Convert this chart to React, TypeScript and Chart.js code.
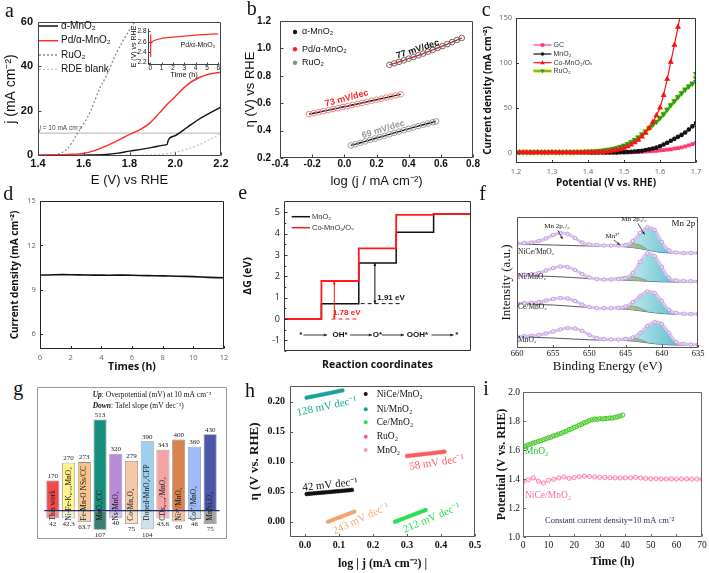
import React, { useEffect, useRef } from "react";
import { Chart, registerables } from "chart.js";
Chart.register(...registerables);

const SANS = "'Liberation Sans', Arial, sans-serif";
const OPEN = "'Open Sans', 'Liberation Sans', sans-serif";
const SERIF = "'Liberation Serif', 'Times New Roman', serif";

// ---------------- Panel a data ----------------
const aAlphaE = [1.40, 1.50, 1.60, 1.70, 1.75, 1.80, 1.85, 1.90, 1.95, 1.965, 1.97, 2.00, 2.05, 2.10, 2.15, 2.20];
const aAlphaJ = [0.0, 0.0, 0.1, 0.4, 1.0, 1.9, 2.7, 3.6, 4.6, 5.0, 7.0, 8.9, 12.4, 16.0, 19.0, 21.7];
const aPdE = [1.40, 1.50, 1.55, 1.60, 1.65, 1.70, 1.75, 1.80, 1.85, 1.89, 1.93, 1.97, 2.00, 2.05, 2.10, 2.15, 2.20];
const aPdJ = [0.05, 0.3, 0.5, 0.9, 2.2, 4.3, 6.7, 9.4, 11.8, 14.6, 19.0, 23.5, 26.5, 31.5, 34.8, 36.6, 37.4];
const aRuE = [1.40, 1.45, 1.50, 1.53, 1.55, 1.57, 1.60, 1.63, 1.67, 1.70, 1.74, 1.78, 1.823];
const aRuJ = [0.0, 0.1, 1.0, 3.2, 6.0, 9.5, 14.2, 20.0, 30.2, 36.0, 45.5, 53.0, 60.0];
const aRdeE = [1.40, 1.80, 1.90, 1.95, 2.00, 2.05, 2.10, 2.15, 2.20];
const aRdeJ = [0.0, 0.0, 0.2, 0.6, 1.4, 2.7, 4.6, 7.0, 10.0];
const aRefE = [1.4, 2.2];
const aRefJ = [10, 10];
const aInsetT = [0, 0.02, 0.05, 0.08, 0.15, 0.3, 0.6, 1, 1.5, 2, 3, 4, 5, 6];
const aInsetE = [2.32, 2.74, 2.6, 2.58, 2.6, 2.62, 2.645, 2.665, 2.68, 2.69, 2.71, 2.73, 2.745, 2.755];

// ---------------- Panel b data ----------------
const bTopX = [0.28, 0.31, 0.34, 0.37, 0.40, 0.43, 0.46, 0.49, 0.52, 0.55, 0.58, 0.61, 0.64, 0.67, 0.70, 0.73];
const bTopY = [0.880, 0.891, 0.902, 0.913, 0.925, 0.937, 0.949, 0.962, 0.976, 0.989, 1.003, 1.017, 1.031, 1.046, 1.061, 1.076];
const bMidX = [-0.22, -0.19, -0.16, -0.13, -0.10, -0.07, -0.04, -0.01, 0.02, 0.05, 0.08, 0.11, 0.14, 0.17, 0.20, 0.23, 0.26, 0.29, 0.32, 0.35];
const bMidY = [0.520, 0.527, 0.534, 0.542, 0.549, 0.557, 0.564, 0.572, 0.579, 0.587, 0.594, 0.602, 0.610, 0.618, 0.625, 0.633, 0.641, 0.649, 0.657, 0.665];
const bBotX = [0.04, 0.07, 0.10, 0.13, 0.16, 0.19, 0.22, 0.25, 0.28, 0.31, 0.34, 0.37, 0.40, 0.43, 0.46, 0.49, 0.52, 0.55, 0.57];
const bBotY = [0.292, 0.301, 0.311, 0.321, 0.332, 0.342, 0.352, 0.362, 0.373, 0.383, 0.393, 0.403, 0.413, 0.423, 0.433, 0.443, 0.452, 0.461, 0.467];

// ---------------- Panel c data ----------------
const cV = [1.20, 1.21, 1.22, 1.23, 1.24, 1.25, 1.26, 1.27, 1.28, 1.29, 1.30, 1.31, 1.32, 1.33, 1.34, 1.35, 1.36, 1.37, 1.38, 1.39, 1.40, 1.41, 1.42, 1.43, 1.44, 1.45, 1.46, 1.47, 1.48, 1.49, 1.50, 1.51, 1.52, 1.53, 1.54, 1.55, 1.56, 1.57, 1.58, 1.59, 1.60, 1.61, 1.62, 1.63, 1.64, 1.65, 1.66, 1.67, 1.68, 1.69, 1.70];
const cGC = [0.1, 0.1, 0.2, 0.1, 0.1, 0.2, 0.1, 0.1, 0.1, 0.2, 0.1, 0.1, 0.2, 0.1, 0.1, 0.1, 0.2, 0.1, 0.1, 0.1, 0.2, 0.1, 0.1, 0.2, 0.1, 0.1, 0.1, 0.2, 0.1, 0.2,
  0.2, 0.3, 0.4, 0.55, 0.7, 0.9, 1.1, 1.4, 1.8, 2.1, 2.5, 2.9, 3.3, 3.8, 4.5, 5.2, 6.0, 6.9, 8.0, 9.4, 11.0];
const cMnO2 = [0.2, 0.2, 0.1, 0.2, 0.2, 0.1, 0.2, 0.2, 0.2, 0.1, 0.2, 0.2, 0.1, 0.2, 0.2, 0.2, 0.1, 0.2, 0.2, 0.2, 0.2, 0.1, 0.2, 0.2, 0.2, 0.2, 0.2, 0.2,
  0.3, 0.4, 0.6, 0.8, 1.0, 1.3, 1.7, 2.2, 2.9, 3.7, 4.6, 5.6, 7.2, 9.1, 11.1, 13.3, 15.4, 17.6, 19.8, 22.5, 25.8, 29.3, 33.0];
const cCoMnO2 = [0.3, 0.3, 0.4, 0.3, 0.3, 0.3, 0.4, 0.3, 0.3, 0.3, 0.4, 0.3, 0.3, 0.3, 0.4, 0.3, 0.3, 0.4, 0.3, 0.4, 0.4, 0.5, 0.5, 0.6, 0.7,
  1.0, 1.5, 2.2, 3.0, 4.0, 5.2, 6.8, 8.8, 11.2, 14.2, 17.8, 22.0, 27.5, 34.0, 41.5, 50.0, 64.0, 82.0, 101.0, 120.0, 140.0, 160.0];
const cRuO2 = [0.5, 0.5, 0.6, 0.5, 0.5, 0.6, 0.5, 0.5, 0.6, 0.5, 0.5, 0.6, 0.5, 0.6, 0.5, 0.5,
  0.6, 0.7, 0.8, 1.0, 1.2, 1.4, 1.7, 2.0, 2.4, 2.9, 3.5, 4.3, 5.3, 6.5, 8.0, 9.8, 12.0, 14.5, 17.3, 20.5, 24.0, 27.5, 31.0, 34.5, 38.5, 43.0, 48.0, 53.0, 57.5, 62.0, 66.5, 70.5, 74.0, 77.0, 79.0];
const cRuHookV = [1.70, 1.70];
const cRuHookJ = [83, 88];

// ---------------- Panel d data ----------------
const dTime = [0, 0.5, 1, 1.5, 2, 2.5, 3, 3.5, 4, 4.5, 5, 5.5, 6, 6.5, 7, 7.5, 8, 8.5, 9, 9.5, 10, 10.5, 11, 11.5, 12];
const dCurrent = [10.00, 10.00, 10.02, 10.03, 10.02, 10.01, 10.00, 9.99, 9.99, 9.98, 9.99, 9.99, 9.98, 9.97, 9.96, 9.95, 9.94, 9.93, 9.92, 9.91, 9.89, 9.86, 9.84, 9.82, 9.81];

// ---------------- Panel e data ----------------
const eSteps = [0, 1, 2, 3, 4, 5];
const eMnO2 = [0, 0.72, 2.63, 4.06, 4.92, 4.92];
const eCoMnO2 = [0, 1.78, 3.31, 4.88, 4.93, 4.93];
const eRxnLabels = ["*", "OH*", "O*", "OOH*", "*"];

// ---------------- Panel f data ----------------
const fX = [660, 659, 658, 657, 656, 655, 654, 653, 652, 651, 650, 649, 648, 647, 646, 645, 644, 643, 642, 641, 640, 639, 638, 637, 636, 635];
const fNiCe = [10.45, 10.5, 10.55, 10.7, 10.95, 11.3, 11.5, 11.4, 11.0, 10.55, 10.35, 10.3, 10.25, 10.25, 10.25, 10.3, 10.7, 11.5, 12.05, 11.8, 10.6, 9.75, 9.55, 9.5, 9.5, 9.5];
const fNi = [7.3, 7.33, 7.38, 7.5, 7.75, 8.0, 8.15, 8.1, 7.8, 7.4, 7.05, 6.9, 6.85, 6.85, 6.9, 7.0, 7.5, 8.6, 9.45, 9.2, 8.1, 7.0, 6.75, 6.7, 6.68, 6.66];
const fCe = [4.45, 4.48, 4.52, 4.6, 4.75, 4.9, 5.0, 4.95, 4.7, 4.35, 4.1, 4.0, 3.98, 3.98, 4.02, 4.15, 4.6, 5.2, 5.65, 5.5, 4.7, 3.8, 3.5, 3.42, 3.4, 3.4];
const fMn = [1.15, 1.18, 1.22, 1.3, 1.45, 1.65, 1.85, 2.0, 1.95, 1.7, 1.3, 1.0, 0.88, 0.85, 0.85, 0.9, 1.05, 1.5, 2.2, 2.6, 2.4, 1.5, 0.6, 0.4, 0.35, 0.33];
const fBaseX = [660, 655, 650, 646, 644, 642, 640, 638, 635];
const fBaseNiCe = [10.4, 10.3, 10.2, 10.15, 10.05, 9.8, 9.55, 9.5, 9.45];
const fBaseNi = [7.25, 7.15, 6.95, 6.82, 6.75, 6.68, 6.62, 6.6, 6.6];
const fBaseCe = [4.4, 4.3, 4.05, 3.93, 3.82, 3.62, 3.45, 3.38, 3.35];
const fBaseMn = [1.1, 1.0, 0.82, 0.78, 0.7, 0.52, 0.36, 0.3, 0.28];
const fCyanX = [646, 645, 644, 643, 642, 641, 640, 639, 638];
const fCyanNiCe = [10.15, 10.22, 10.5, 11.3, 11.95, 11.75, 10.6, 9.72, 9.5];
const fCyanNi = [6.82, 6.88, 7.3, 8.4, 9.4, 9.15, 8.05, 6.95, 6.6];
const fCyanCe = [3.93, 3.98, 4.4, 5.05, 5.6, 5.45, 4.65, 3.75, 3.38];
const fCyanMn = [0.78, 0.78, 0.85, 1.25, 2.0, 2.55, 2.35, 1.45, 0.3];
const fOliveX = [648, 647, 646, 645, 644, 643, 642];
const fOliveNiCe = [10.18, 10.22, 10.3, 10.42, 10.45, 10.3, 9.85];
const fOliveNi = [6.9, 6.95, 7.05, 7.15, 7.15, 7.0, 6.72];
const fOliveCe = [3.99, 4.03, 4.12, 4.22, 4.2, 4.0, 3.68];
const fOliveMn = [0.82, 0.86, 0.93, 0.99, 0.98, 0.86, 0.58];
const fSampleNames = ["NiCe/MnO₂", "Ni/MnO₂", "Ce/MnO₂", "MnO₂"];

// ---------------- Panel g data ----------------
const gNames = ["This work", "Ni-Fe-K₀.₂₃MnO₂", "Fe-Mn-O NSs/CC", "MnO₂/CC", "Ns-MnO₂", "Co-Mn₃O₄", "Doped-MnO₂/CFP", "CDs₀.₁₅/MnO₂", "Ni²⁺/MnO₂", "Co²⁺/MnO₂", "MnNi₂O₄"];
const gOverpotential = [170, 270, 273, 513, 320, 279, 390, 343, 400, 360, 430];
const gTafel = [42, 42.3, 63.7, 107, 40, 75, 104, 43.6, 60, 46, 75];
const gUpColors = ["#f04a4f", "#fff38c", "#f7c389", "#178f7c", "#b98ad8", "#f5c9a6", "#9dd0f0", "#f7a3a5", "#d9834f", "#9fbaf8", "#4a58a6"];
const gDownColors = ["#f28a8d", "#eef5d0", "#f6d2b0", "#3e7f74", "#d6c0ea", "#f8dcc3", "#cde2ee", "#f6b9ba", "#f1c09d", "#cfe0f4", "#a3a3a3"];

// ---------------- Panel h data ----------------
const hNiCeX = [0.005, 0.012, 0.019, 0.026, 0.033, 0.040, 0.047, 0.054, 0.061, 0.068, 0.075, 0.082, 0.089, 0.096, 0.103, 0.110, 0.117, 0.124, 0.131, 0.138];
const hNiCeY = [0.0462, 0.0466, 0.0469, 0.0473, 0.0476, 0.0480, 0.0483, 0.0487, 0.0490, 0.0494, 0.0497, 0.0501, 0.0505, 0.0508, 0.0511, 0.0515, 0.0519, 0.0522, 0.0526, 0.0530];
const hNiX = [0.005, 0.012, 0.019, 0.026, 0.033, 0.040, 0.047, 0.054, 0.061, 0.068, 0.075, 0.082, 0.089, 0.096, 0.103, 0.110];
const hNiY = [0.2068, 0.2075, 0.2084, 0.2091, 0.2099, 0.2107, 0.2116, 0.2123, 0.2131, 0.2139, 0.2148, 0.2155, 0.2164, 0.2171, 0.2180, 0.2188];
const hCeX = [0.265, 0.272, 0.279, 0.286, 0.293, 0.300, 0.307, 0.314, 0.321, 0.328, 0.335, 0.342, 0.349, 0.355];
const hCeY = [0.0000, 0.0016, 0.0030, 0.0046, 0.0061, 0.0076, 0.0092, 0.0106, 0.0122, 0.0137, 0.0152, 0.0168, 0.0182, 0.0196];
const hRuX = [0.300, 0.307, 0.314, 0.321, 0.328, 0.335, 0.342, 0.349, 0.356, 0.363, 0.370, 0.377, 0.384, 0.391, 0.398, 0.405, 0.410];
const hRuY = [0.1095, 0.1099, 0.1104, 0.1108, 0.1113, 0.1117, 0.1122, 0.1127, 0.1131, 0.1136, 0.1140, 0.1145, 0.1149, 0.1154, 0.1158, 0.1163, 0.1167];
const hMnX = [0.068, 0.075, 0.082, 0.089, 0.096, 0.103, 0.110, 0.117, 0.124, 0.131, 0.138, 0.145];
const hMnY = [0.0000, 0.0015, 0.0030, 0.0046, 0.0061, 0.0076, 0.0091, 0.0106, 0.0122, 0.0137, 0.0152, 0.0167];
const hLegend = ["NiCe/MnO₂", "Ni/MnO₂", "Ce/MnO₂", "RuO₂", "MnO₂"];

// ---------------- Panel i data ----------------
const iMnT = [0, 1, 2, 3, 4, 5, 6, 7, 8, 9, 10, 11, 12, 13, 14, 15, 16, 17, 18, 19, 20, 21, 22, 23, 24, 25, 26, 27, 28, 29, 30, 31, 32, 33, 34, 35, 36, 37, 38, 39];
const iMnV = [1.622, 1.627, 1.635, 1.640, 1.648, 1.652, 1.660, 1.664, 1.672, 1.677, 1.685, 1.689, 1.698, 1.702, 1.710, 1.715, 1.724, 1.730, 1.740, 1.746, 1.756, 1.762, 1.772, 1.778, 1.788, 1.794, 1.804, 1.808, 1.813, 1.812, 1.816, 1.814, 1.817, 1.818, 1.821, 1.820, 1.826, 1.828, 1.835, 1.841];
const iNiT = [0, 2, 4, 6, 8, 10, 12, 14, 16, 18, 20, 22, 24, 26, 28, 30, 32, 34, 36, 38, 40, 42, 44, 46, 48, 50, 52, 54, 56, 58, 60, 62, 64, 66, 68, 70];
const iNiV = [1.378, 1.395, 1.408, 1.385, 1.372, 1.390, 1.398, 1.408, 1.414, 1.405, 1.410, 1.415, 1.420, 1.417, 1.414, 1.412, 1.410, 1.409, 1.408, 1.407, 1.408, 1.408, 1.411, 1.407, 1.404, 1.402, 1.402, 1.401, 1.400, 1.401, 1.400, 1.401, 1.400, 1.399, 1.400, 1.399];

// ---------------- helpers ----------------
type G = { c: number[]; p: number[] };
const f0 = (v: number) => String(Math.round(v));
const f1 = (v: number) => v.toFixed(1);
const f2 = (v: number) => v.toFixed(2);

function ds(xs: number[], ys: number[], extra: any = {}) {
  return { data: xs.map((x, i) => ({ x, y: ys[i] })), pointRadius: 0, borderWidth: 1, fill: false, ...extra };
}
function ordered(list: any[]) {
  list.forEach((d, i) => (d.order = -i));
  return list;
}

function xAxis(g: G, o: any) {
  const h = g.c[1] + g.c[3] - g.p[3];
  const size = o.tickFont ? o.tickFont.size : 10;
  const s: any = {
    type: "linear", position: "bottom", min: o.min, max: o.max, reverse: !!o.reverse,
    grid: { display: false, drawTicks: false }, border: { display: false },
    ticks: {
      display: o.showTicks !== false, font: o.tickFont, color: o.tickColor || "#111",
      padding: o.tickCY !== undefined ? o.tickCY - g.p[3] - 0.6 * size : 3,
      autoSkip: false, maxRotation: 0, minRotation: 0,
      callback: (v: any) => (o.fmt ? o.fmt(Number(v)) : String(v)),
    },
    afterBuildTicks: (sc: any) => { sc.ticks = (o.ticks || []).map((v: number) => ({ value: v })); },
    afterFit: (sc: any) => { sc.height = h; sc.paddingLeft = 0; sc.paddingRight = 0; sc.paddingTop = 0; sc.paddingBottom = 0; },
  };
  if (o.title) {
    const lh = o.titleFont.size * 1.2;
    s.title = { display: true, text: o.title, font: o.titleFont, color: o.titleColor || "#111", padding: { top: 0, bottom: g.c[1] + g.c[3] - o.titleCY - lh / 2 } };
  }
  return s;
}

function yAxis(g: G, o: any) {
  const w = g.p[0] - g.c[0];
  const s: any = {
    type: "linear", position: "left", min: o.min, max: o.max,
    grid: { display: false, drawTicks: false }, border: { display: false },
    ticks: {
      display: o.showTicks !== false, font: o.tickFont, color: o.tickColor || "#111",
      padding: o.tickRX !== undefined ? g.p[0] - o.tickRX : 3, autoSkip: false,
      callback: (v: any) => (o.fmt ? o.fmt(Number(v)) : String(v)),
    },
    afterBuildTicks: (sc: any) => { sc.ticks = (o.ticks || []).map((v: number) => ({ value: v })); },
    afterFit: (sc: any) => { sc.width = w; sc.paddingTop = 0; sc.paddingBottom = 0; sc.paddingLeft = 0; sc.paddingRight = 0; },
  };
  if (o.title) {
    const lh = o.titleFont.size * 1.2;
    s.title = { display: true, text: o.title, font: o.titleFont, color: o.titleColor || "#111", padding: { top: o.titleCX - g.c[0] - lh / 2, bottom: 0 } };
  }
  return s;
}

function base(g: G, x: any, y: any) {
  return {
    responsive: false, animation: false, events: [],
    layout: { padding: { left: 0, top: g.p[1] - g.c[1], right: g.c[0] + g.c[2] - g.p[2], bottom: 0 } },
    plugins: { legend: { display: false }, tooltip: { enabled: false } },
    scales: { x, y },
  };
}

function framePlugin(o: any) {
  return {
    id: "frame",
    afterDatasetsDraw(chart: any) {
      const ctx = chart.ctx, a = chart.chartArea;
      const L = Math.round(a.left) + 0.5, R = Math.round(a.right) - 0.5, T = Math.round(a.top) + 0.5, B = Math.round(a.bottom) - 0.5;
      ctx.save();
      ctx.strokeStyle = o.color || "#222";
      ctx.lineWidth = o.width || 1;
      const sides = o.sides || "lrtb";
      ctx.beginPath();
      if (sides.includes("l")) { ctx.moveTo(L, T); ctx.lineTo(L, B); }
      if (sides.includes("r")) { ctx.moveTo(R, T); ctx.lineTo(R, B); }
      if (sides.includes("t")) { ctx.moveTo(L, T); ctx.lineTo(R, T); }
      if (sides.includes("b")) { ctx.moveTo(L, B); ctx.lineTo(R, B); }
      ctx.stroke();
      const tl = o.tick === undefined ? 3 : o.tick;
      if (tl) {
        ctx.beginPath();
        const xs = o.xt || chart.scales.x.ticks.map((t: any) => t.value);
        const ys = o.yt || chart.scales.y.ticks.map((t: any) => t.value);
        xs.forEach((v: number) => { const px = Math.round(chart.scales.x.getPixelForValue(v)) + 0.5; ctx.moveTo(px, B); ctx.lineTo(px, B - tl); });
        ys.forEach((v: number) => { const py = Math.round(chart.scales.y.getPixelForValue(v)) + 0.5; ctx.moveTo(L, py); ctx.lineTo(L + tl, py); });
        (o.xm || []).forEach((v: number) => { const px = Math.round(chart.scales.x.getPixelForValue(v)) + 0.5; ctx.moveTo(px, B); ctx.lineTo(px, B - tl * 0.6); });
        (o.ym || []).forEach((v: number) => { const py = Math.round(chart.scales.y.getPixelForValue(v)) + 0.5; ctx.moveTo(L, py); ctx.lineTo(L + tl * 0.6, py); });
        ctx.stroke();
      }
      ctx.restore();
    },
  };
}

function annoPlugin(items: any[], ox: number, oy: number) {
  return {
    id: "anno",
    afterDraw(chart: any) {
      const ctx = chart.ctx;
      const P = (it: any, x: number, y: number) => {
        if (it.d) return [chart.scales.x.getPixelForValue(x) + (it.dx || 0), chart.scales.y.getPixelForValue(y) + (it.dy || 0)];
        return [x - ox + (it.dx || 0), y - oy + (it.dy || 0)];
      };
      for (const it of items) {
        ctx.save();
        if (it.k === "t") {
          const [x, y] = P(it, it.x, it.y);
          ctx.translate(x, y);
          if (it.r) ctx.rotate((it.r * Math.PI) / 180);
          ctx.font = it.f || `9px ${SANS}`;
          ctx.fillStyle = it.c || "#111";
          ctx.textAlign = it.a || "left";
          ctx.textBaseline = it.b || "middle";
          ctx.fillText(it.s, 0, 0);
        } else if (it.k === "rt") {
          const [x, y] = P(it, it.x, it.y);
          ctx.translate(x, y);
          if (it.r) ctx.rotate((it.r * Math.PI) / 180);
          ctx.textBaseline = "middle";
          ctx.textAlign = "left";
          let total = 0;
          for (const s of it.segs) { ctx.font = s[1]; total += ctx.measureText(s[0]).width; }
          let cx = it.a === "center" ? -total / 2 : it.a === "right" ? -total : 0;
          for (const s of it.segs) { ctx.font = s[1]; ctx.fillStyle = s[2]; ctx.fillText(s[0], cx, 0); cx += ctx.measureText(s[0]).width; }
        } else if (it.k === "l") {
          ctx.strokeStyle = it.c || "#111";
          ctx.lineWidth = it.w || 1;
          if (it.dash) ctx.setLineDash(it.dash);
          ctx.beginPath();
          it.pts.forEach((p: number[], i: number) => { const [x, y] = P(it, p[0], p[1]); if (i) ctx.lineTo(x, y); else ctx.moveTo(x, y); });
          ctx.stroke();
        } else if (it.k === "ar") {
          const [x1, y1] = P(it, it.x1, it.y1);
          const [x2, y2] = P(it, it.x2, it.y2);
          ctx.strokeStyle = it.c || "#111";
          ctx.fillStyle = it.c || "#111";
          ctx.lineWidth = it.w || 1;
          ctx.beginPath(); ctx.moveTo(x1, y1); ctx.lineTo(x2, y2); ctx.stroke();
          const hs = it.h || 4;
          const head = (xa: number, ya: number, xb: number, yb: number) => {
            const ang = Math.atan2(yb - ya, xb - xa);
            ctx.beginPath();
            ctx.moveTo(xb, yb);
            ctx.lineTo(xb - hs * Math.cos(ang - 0.42), yb - hs * Math.sin(ang - 0.42));
            ctx.lineTo(xb - hs * Math.cos(ang + 0.42), yb - hs * Math.sin(ang + 0.42));
            ctx.closePath(); ctx.fill();
          };
          head(x1, y1, x2, y2);
          if (it.both) head(x2, y2, x1, y1);
        } else if (it.k === "m") {
          const [x, y] = P(it, it.x, it.y);
          const r = it.rad || 2.5;
          ctx.beginPath();
          if (it.shape === "rect") ctx.rect(x - r, y - r, 2 * r, 2 * r);
          else if (it.shape === "tri") { ctx.moveTo(x, y - r * 1.2); ctx.lineTo(x + r * 1.1, y + r * 0.8); ctx.lineTo(x - r * 1.1, y + r * 0.8); ctx.closePath(); }
          else if (it.shape === "triDown") { ctx.moveTo(x, y + r * 1.2); ctx.lineTo(x + r * 1.1, y - r * 0.8); ctx.lineTo(x - r * 1.1, y - r * 0.8); ctx.closePath(); }
          else ctx.arc(x, y, r, 0, Math.PI * 2);
          if (it.fc) { ctx.fillStyle = it.fc; ctx.fill(); }
          if (it.bc) { ctx.strokeStyle = it.bc; ctx.lineWidth = it.bw || 1; ctx.stroke(); }
        }
        ctx.restore();
      }
    },
  };
}

// ---------------- Panel a ----------------
const gA: G = { c: [0, 0, 236, 192], p: [38, 22, 221, 156] };
function cfgA() {
  const datasets = ordered([
    ds(aRefE, aRefJ, { borderColor: "#a0a0a0", borderWidth: 0.8 }),
    ds(aRdeE, aRdeJ, { borderColor: "#c4c4c4", borderWidth: 1.3, borderDash: [2, 2], cubicInterpolationMode: "monotone" }),
    ds(aRuE, aRuJ, { borderColor: "#8c8c8c", borderWidth: 1.3, borderDash: [2, 2], cubicInterpolationMode: "monotone" }),
    ds(aAlphaE, aAlphaJ, { borderColor: "#111111", borderWidth: 1.4, cubicInterpolationMode: "monotone" }),
    ds(aPdE, aPdJ, { borderColor: "#ff2a2a", borderWidth: 1.4, cubicInterpolationMode: "monotone" }),
  ]);
  const tf = { family: SANS, size: 11, weight: "bold" };
  const lf = `10px ${SANS}`;
  const items = [
    { k: "l", pts: [[39, 26], [58, 26]], c: "#111", w: 1.5 }, { k: "t", x: 61, y: 26, s: "α-MnO₂", f: lf },
    { k: "l", pts: [[39, 40.7], [58, 40.7]], c: "#ff2a2a", w: 1.5 }, { k: "t", x: 61, y: 40.7, s: "Pd/α-MnO₂", f: lf },
    { k: "l", pts: [[39, 55], [58, 55]], c: "#8c8c8c", w: 1.3, dash: [2, 2] }, { k: "t", x: 61, y: 55, s: "RuO₂", f: lf },
    { k: "l", pts: [[39, 69.3], [58, 69.3]], c: "#c4c4c4", w: 1.3, dash: [2, 2] }, { k: "t", x: 61, y: 69.3, s: "RDE blank", f: lf },
    { k: "rt", x: 39.5, y: 128.5, segs: [["j", `italic 6.5px ${SANS}`, "#444"], [" = 10 mA cm⁻²", `6.5px ${SANS}`, "#444"]] },
  ];
  return {
    type: "line", data: { datasets },
    options: base(gA,
      xAxis(gA, { min: 1.4, max: 2.2, ticks: [1.4, 1.6, 1.8, 2.0, 2.2], fmt: f1, tickFont: tf, tickCY: 164, title: "E (V) vs RHE", titleFont: { family: SANS, size: 13 }, titleCY: 180 }),
      yAxis(gA, { min: -0.3, max: 60, ticks: [0, 20, 40, 60], fmt: f0, tickFont: tf, tickRX: 33, title: "j (mA cm⁻²)", titleFont: { family: SANS, size: 14 }, titleCX: 11 })),
    plugins: [framePlugin({ color: "#444", tick: 3 }), annoPlugin(items, gA.c[0], gA.c[1])],
  };
}

const gAIn: G = { c: [125, 24, 100, 56], p: [148, 28, 220, 65] };
function cfgAInset() {
  const tf = { family: SANS, size: 6.5 };
  return {
    type: "line",
    data: { datasets: [ds(aInsetT, aInsetE, { borderColor: "#ff2a2a", borderWidth: 1.2 })] },
    options: base(gAIn,
      xAxis(gAIn, { min: -0.2, max: 6.15, ticks: [0, 1, 2, 3, 4, 5, 6], fmt: f0, tickFont: tf, tickCY: 68.5, title: "Time (h)", titleFont: { family: SANS, size: 7.5 }, titleCY: 74.5 }),
      yAxis(gAIn, { min: 2.155, max: 2.866, ticks: [2.2, 2.4, 2.6, 2.8], fmt: f1, tickFont: tf, tickRX: 146.5, title: "E (V) vs RHE", titleFont: { family: SANS, size: 7 }, titleCX: 134.5 })),
    plugins: [framePlugin({ color: "#444", tick: 2, sides: "lb" }), annoPlugin([{ k: "t", x: 198, y: 45, s: "Pd/α-MnO₂", f: `7px ${SANS}`, a: "center" }], gAIn.c[0], gAIn.c[1])],
  };
}

// ---------------- Panel b ----------------
const gB: G = { c: [236, 0, 250, 192], p: [280, 21, 473, 158] };
function cfgB() {
  const pt = { pointRadius: 2.8, pointBorderWidth: 1, pointBackgroundColor: "rgba(255,255,255,0)", showLine: true, borderWidth: 1.4 };
  const datasets = ordered([
    ds(bBotX, bBotY, { ...pt, borderColor: "#111", pointBorderColor: "#9a9a9a" }),
    ds(bMidX, bMidY, { ...pt, borderColor: "#111", pointBorderColor: "#f07f7f" }),
    ds(bTopX, bTopY, { ...pt, borderColor: "#e8202a", pointBorderColor: "#666" }),
  ]);
  const tf = { family: SANS, size: 10, weight: "bold" };
  const lf = `9px ${SANS}`;
  const sf = `bold 9px ${SANS}`;
  const items = [
    { k: "m", x: 295, y: 32, rad: 2.2, fc: "#111" }, { k: "t", x: 302, y: 32, s: "α-MnO₂", f: lf },
    { k: "m", x: 295, y: 49.3, rad: 2.2, fc: "#ff2020" }, { k: "t", x: 302, y: 49.3, s: "Pd/α-MnO₂", f: lf },
    { k: "m", x: 295, y: 62.7, rad: 2.2, fc: "#8a8a8a" }, { k: "t", x: 302, y: 62.7, s: "RuO₂", f: lf },
    { k: "t", x: 417.7, y: 49.3, s: "77 mV/dec", f: sf, c: "#111", a: "center", r: -18 },
    { k: "t", x: 346.7, y: 98.3, s: "73 mV/dec", f: sf, c: "#ff2020", a: "center", r: -15 },
    { k: "t", x: 383.3, y: 129.3, s: "69 mV/dec", f: sf, c: "#9a9a9a", a: "center", r: -17 },
  ];
  return {
    type: "line", data: { datasets },
    options: base(gB,
      xAxis(gB, { min: -0.4, max: 0.8, ticks: [-0.4, -0.2, 0, 0.2, 0.4, 0.6, 0.8], fmt: f1, tickFont: tf, tickCY: 164, title: "log (j / mA cm⁻²)", titleFont: { family: SANS, size: 13 }, titleCY: 181.7 }),
      yAxis(gB, { min: 0.2, max: 1.2, ticks: [0.2, 0.4, 0.6, 0.8, 1.0, 1.2], fmt: f1, tickFont: tf, tickRX: 271, title: "η (V) vs RHE", titleFont: { family: SANS, size: 13 }, titleCX: 250 })),
    plugins: [framePlugin({ color: "#444", tick: 3 }), annoPlugin(items, gB.c[0], gB.c[1])],
  };
}

// ---------------- Panel c ----------------
const gC: G = { c: [474, 0, 235, 190], p: [516, 18, 696, 163] };
function cfgC() {
  const ruData = ds(cV, cRuO2).data.concat(ds(cRuHookV, cRuHookJ).data);
  const datasets = ordered([
    ds(cV, cGC, { borderColor: "#ff3a6e", backgroundColor: "#ff3a6e", pointStyle: "rect", pointRadius: 1.8, borderWidth: 1.2 }),
    ds(cV, cMnO2, { borderColor: "#111", backgroundColor: "#111", pointStyle: "circle", pointRadius: 1.7, borderWidth: 1.2 }),
    { data: ruData, borderColor: "#f4f03c", borderWidth: 5, pointRadius: 0, fill: false },
    { data: ruData, borderColor: "#1f9a3c", backgroundColor: "#1f9a3c", pointStyle: "triangle", pointRotation: 180, pointRadius: 2.3, borderWidth: 1.2, fill: false },
    ds(cV.slice(0, cCoMnO2.length), cCoMnO2, { borderColor: "#ff1010", backgroundColor: "#ff1010", pointStyle: "triangle", pointRadius: 2.3, borderWidth: 1.2 }),
  ]);
  const tf = { family: OPEN, size: 7.5 };
  const lf = `7px ${SANS}`;
  const lx = [533.5, 551.5];
  const items = [
    { k: "l", pts: [[lx[0], 45], [lx[1], 45]], c: "#ff3a6e", w: 1.2 }, { k: "m", x: 542.5, y: 45, shape: "rect", rad: 1.8, fc: "#ff3a6e" }, { k: "t", x: 553.5, y: 45, s: "GC", f: lf, c: "#333" },
    { k: "l", pts: [[lx[0], 54], [lx[1], 54]], c: "#111", w: 1.2 }, { k: "m", x: 542.5, y: 54, rad: 1.8, fc: "#111" }, { k: "t", x: 553.5, y: 54, s: "MnO₂", f: lf, c: "#333" },
    { k: "l", pts: [[lx[0], 62.7], [lx[1], 62.7]], c: "#ff1010", w: 1.2 }, { k: "m", x: 542.5, y: 62.7, shape: "tri", rad: 2, fc: "#ff1010" }, { k: "t", x: 553.5, y: 62.7, s: "Co-MnO₂/Oᵥ", f: lf, c: "#333" },
    { k: "l", pts: [[lx[0], 71], [lx[1], 71]], c: "#f4f03c", w: 4 }, { k: "l", pts: [[lx[0], 71], [lx[1], 71]], c: "#1f9a3c", w: 1.2 }, { k: "m", x: 542.5, y: 71, shape: "triDown", rad: 2, fc: "#1f9a3c" }, { k: "t", x: 553.5, y: 71, s: "RuO₂", f: lf, c: "#333" },
  ];
  return {
    type: "line", data: { datasets },
    options: base(gC,
      xAxis(gC, { min: 1.2, max: 1.7, ticks: [1.2, 1.3, 1.4, 1.5, 1.6, 1.7], fmt: f1, tickFont: tf, tickColor: "#666", tickCY: 171.7, title: "Potential (V vs. RHE)", titleFont: { family: OPEN, size: 10, weight: "bold" }, titleCY: 182.7 }),
      yAxis(gC, { min: -11.5, max: 150, ticks: [0, 50, 100, 150], fmt: f0, tickFont: tf, tickColor: "#666", tickRX: 512, title: "Current density (mA cm⁻²)", titleFont: { family: OPEN, size: 10, weight: "bold" }, titleCX: 488 })),
    plugins: [framePlugin({ color: "#333", tick: 2.5 }), annoPlugin(items, gC.c[0], gC.c[1])],
  };
}

// ---------------- Panel d ----------------
const gD: G = { c: [0, 187, 236, 186], p: [40, 201, 224, 349] };
function cfgD() {
  const tf = { family: OPEN, size: 7.5 };
  return {
    type: "line",
    data: { datasets: [ds(dTime, dCurrent, { borderColor: "#111", borderWidth: 1.6 })] },
    options: base(gD,
      xAxis(gD, { min: 0, max: 12, ticks: [0, 2, 4, 6, 8, 10, 12], fmt: f0, tickFont: tf, tickColor: "#666", tickCY: 357.7, title: "Times (h)", titleFont: { family: OPEN, size: 10.5, weight: "bold" }, titleCY: 367 }),
      yAxis(gD, { min: 5, max: 15, ticks: [6, 9, 12, 15], fmt: f0, tickFont: tf, tickColor: "#666", tickRX: 35.7, title: "Current density (mA cm⁻²)", titleFont: { family: OPEN, size: 10, weight: "bold" }, titleCX: 15 })),
    plugins: [framePlugin({ color: "#222", tick: 2.5 })],
  };
}

// ---------------- Panel e ----------------
const gE: G = { c: [236, 187, 238, 186], p: [284, 201, 471, 351] };
function cfgE() {
  const datasets = ordered([
    ds(eSteps, eMnO2, { borderColor: "#111", borderWidth: 1.5, stepped: "before" }),
    ds(eSteps, eCoMnO2, { borderColor: "#ff1a1a", borderWidth: 1.8, stepped: "before" }),
  ]);
  const rf = `bold 8px ${SANS}`;
  const rowY = 335;
  const rxnX = [300.7, 340, 377.5, 417.5, 456.7];
  const items: any[] = [
    { k: "l", d: 1, pts: [[1.27, 0], [1.99, 0]], c: "#ff1a1a", w: 1, dash: [4, 3] },
    { k: "l", d: 1, pts: [[2.05, 0.72], [3.15, 0.72]], c: "#111", w: 1, dash: [4, 3] },
    { k: "ar", d: 1, x1: 1.345, y1: 0, x2: 1.345, y2: 1.78, c: "#ff1a1a", w: 1, both: 1, h: 3.5 },
    { k: "ar", d: 1, x1: 2.43, y1: 0.72, x2: 2.43, y2: 2.63, c: "#111", w: 1, both: 1, h: 3.5 },
    { k: "t", x: 346.7, y: 312.3, s: "1.78 eV", f: `bold 8px ${SANS}`, c: "#ff1a1a", a: "center" },
    { k: "t", x: 391, y: 297.7, s: "1.91 eV", f: `bold 8px ${SANS}`, c: "#111", a: "center" },
    { k: "ar", x1: 303.5, y1: rowY, x2: 327, y2: rowY, c: "#222", w: 0.9, h: 3.5 },
    { k: "ar", x1: 350, y1: rowY, x2: 372, y2: rowY, c: "#222", w: 0.9, h: 3.5 },
    { k: "ar", x1: 382, y1: rowY, x2: 404, y2: rowY, c: "#222", w: 0.9, h: 3.5 },
    { k: "ar", x1: 431.5, y1: rowY, x2: 453.5, y2: rowY, c: "#222", w: 0.9, h: 3.5 },
    { k: "l", pts: [[291.7, 216.7], [310, 216.7]], c: "#111", w: 1.5 }, { k: "t", x: 312, y: 216.7, s: "MnO₂", f: `7.5px ${SANS}`, c: "#333" },
    { k: "l", pts: [[291.7, 227.7], [310, 227.7]], c: "#ff1a1a", w: 1.5 }, { k: "t", x: 312, y: 227.7, s: "Co-MnO₂/Oᵥ", f: `7.5px ${SANS}`, c: "#333" },
  ];
  eRxnLabels.forEach((s, i) => items.push({ k: "t", x: rxnX[i], y: rowY, s, f: rf, c: "#111", a: "center" }));
  return {
    type: "line", data: { datasets },
    options: base(gE,
      xAxis(gE, { min: 0, max: 5, ticks: [0, 1, 2, 3, 4, 5], showTicks: false, title: "Reaction coordinates", titleFont: { family: OPEN, size: 10.5, weight: "bold" }, titleCY: 365 }),
      yAxis(gE, { min: -1.5, max: 5.53, ticks: [-1, 0, 1, 2, 3, 4, 5], fmt: f0, tickFont: { family: OPEN, size: 9 }, tickColor: "#222", tickRX: 280, title: "ΔG (eV)", titleFont: { family: OPEN, size: 10.5, weight: "bold" }, titleCX: 248.3 })),
    plugins: [framePlugin({ color: "#333", tick: 3, xt: [], ym: [-1.5, -0.5, 0.5, 1.5, 2.5, 3.5, 4.5] }), annoPlugin(items, gE.c[0], gE.c[1])],
  };
}

// ---------------- Panel f ----------------
const gF: G = { c: [474, 187, 235, 186], p: [517, 217, 698, 348] };
function cfgF() {
  const sets = [
    [fNiCe, fBaseNiCe, fCyanNiCe, fOliveNiCe],
    [fNi, fBaseNi, fCyanNi, fOliveNi],
    [fCe, fBaseCe, fCyanCe, fOliveCe],
    [fMn, fBaseMn, fCyanMn, fOliveMn],
  ];
  const cyanFill = (c: any) => {
    const ch = c.chart; const sx = ch.scales && ch.scales.x;
    if (!ch.chartArea || !sx) return "rgba(150,220,230,0.8)";
    const gr = ch.ctx.createLinearGradient(sx.getPixelForValue(646), 0, sx.getPixelForValue(638), 0);
    gr.addColorStop(0, "rgba(205,240,245,0.85)");
    gr.addColorStop(1, "rgba(80,185,200,0.9)");
    return gr;
  };
  const datasets: any[] = [];
  sets.forEach(([d, b, cy, ol]) => {
    const bi = datasets.length;
    datasets.push(ds(fBaseX, b, { borderColor: "#4d5666", borderWidth: 1, cubicInterpolationMode: "monotone" }));
    datasets.push(ds(fCyanX, cy, { borderColor: "rgba(60,165,185,0.8)", borderWidth: 0.6, backgroundColor: cyanFill, fill: bi, tension: 0.4 }));
    datasets.push(ds(fOliveX, ol, { borderColor: "rgba(120,125,60,0.8)", borderWidth: 0.6, backgroundColor: "rgba(150,150,85,0.55)", fill: bi, tension: 0.4 }));
    datasets.push(ds(fX, d, { borderColor: "#dcc3f0", borderWidth: 3, pointRadius: 1.8, pointBorderColor: "#b98fd8", pointBackgroundColor: "rgba(245,235,252,0.7)", pointBorderWidth: 0.8, tension: 0.4 }));
  });
  ordered(datasets);
  const sf = `7.5px ${SERIF}`;
  const mf = `7px ${SERIF}`;
  const ys = [252, 277, 307, 340];
  const items: any[] = [
    { k: "t", x: 683.3, y: 223.3, s: "Mn 2p", f: `9px ${SERIF}`, a: "center" },
    { k: "t", x: 557, y: 226.5, s: "Mn 2p₁/₂", f: mf, a: "center" },
    { k: "ar", x1: 558, y1: 230.5, x2: 562.5, y2: 239, c: "#222", w: 0.8, h: 3 },
    { k: "t", x: 634, y: 219.5, s: "Mn 2p₃/₂", f: mf, a: "center" },
    { k: "ar", x1: 638, y1: 223.5, x2: 644.5, y2: 234.5, c: "#222", w: 0.8, h: 3 },
    { k: "t", x: 612.5, y: 236.5, s: "Mn³⁺", f: mf, a: "center" },
    { k: "ar", x1: 614, y1: 240, x2: 620, y2: 245, c: "#222", w: 0.8, h: 3 },
  ];
  fSampleNames.forEach((s, i) => items.push({ k: "t", x: 518, y: ys[i], s, f: sf, c: "#222" }));
  return {
    type: "line", data: { datasets },
    options: base(gF,
      xAxis(gF, { min: 635, max: 660, reverse: true, ticks: [660, 655, 650, 645, 640, 635], fmt: f0, tickFont: { family: SERIF, size: 8.5 }, tickCY: 353.3, title: "Binding Energy (eV)", titleFont: { family: SERIF, size: 13 }, titleCY: 366.7 }),
      yAxis(gF, { min: 0, max: 13.1, ticks: [0], showTicks: false, title: "Intensity (a.u.)", titleFont: { family: SERIF, size: 13 }, titleCX: 506.7 })),
    plugins: [framePlugin({ color: "#555", tick: 2.5, yt: [] }), annoPlugin(items, gF.c[0], gF.c[1])],
  };
}

// ---------------- Panel g ----------------
const gGc = [37, 387, 190, 152];
function cfgG() {
  const barOpts = { barPercentage: 0.83, categoryPercentage: 1, grouped: false, borderColor: "#8c8c8c", borderWidth: 0.8, borderSkipped: false };
  const items: any[] = [
    { k: "l", pts: [[37.5, 387.5], [226.5, 387.5], [226.5, 538.5], [37.5, 538.5], [37.5, 387.5]], c: "#9a9a9a", w: 1 },
    { k: "l", d: 1, pts: [[-0.55, 0], [10.6, 0]], dx: 0, c: "#25306a", w: 1.3 },
    { k: "rt", x: 92.7, y: 395, segs: [["Up", `italic bold 7.5px ${SERIF}`, "#111"], [": Overpotential (mV) at 10 mA cm⁻²", `7.5px ${SERIF}`, "#111"]] },
    { k: "rt", x: 92.7, y: 406, segs: [["Down", `italic bold 7.5px ${SERIF}`, "#111"], [": Tafel slope (mV dec⁻¹)", `7.5px ${SERIF}`, "#111"]] },
  ];
  gNames.forEach((n, i) => {
    items.push({ k: "t", d: 1, x: i, y: gOverpotential[i], dy: -4.5, s: String(gOverpotential[i]), f: `7px ${SERIF}`, a: "center", c: "#222" });
    items.push({ k: "t", d: 1, x: i, y: -gTafel[i], dy: 5.5, s: String(gTafel[i]), f: `7px ${SERIF}`, a: "center", c: "#222" });
    items.push({ k: "t", d: 1, x: i, y: 0, dy: 10, r: -90, s: n, f: `7.5px ${SERIF}`, a: "left", c: "#1a1a1a" });
  });
  return {
    type: "bar",
    data: {
      labels: gNames,
      datasets: [
        { data: gOverpotential.map((v) => [0, v]), backgroundColor: gUpColors, ...barOpts },
        { data: gTafel.map((v) => [-v, 0]), backgroundColor: gDownColors, ...barOpts },
      ],
    },
    options: {
      responsive: false, animation: false, events: [],
      layout: { padding: { left: 8, right: 9, top: 0, bottom: 0 } },
      plugins: { legend: { display: false }, tooltip: { enabled: false } },
      scales: { x: { type: "category", display: false }, y: { type: "linear", display: false, min: -159, max: 695 } },
    },
    plugins: [annoPlugin(items, gGc[0], gGc[1])],
  };
}

// ---------------- Panel h ----------------
const gH: G = { c: [236, 372, 252, 201], p: [290, 386, 475, 537] };
const hColors = ["#111111", "#1aa39a", "#2adf55", "#ff5c5c", "#f2a46e"];
const hLegendColors = ["#111111", "#1aa39a", "#2adf55", "#f25e78", "#f5a0a0"];
function cfgH() {
  const pt = (c: string) => ({ showLine: false, pointRadius: 1.9, pointBackgroundColor: c, pointBorderColor: c, pointBorderWidth: 0.6 });
  const datasets = ordered([
    ds(hMnX, hMnY, pt(hColors[4])),
    ds(hRuX, hRuY, pt(hColors[3])),
    ds(hCeX, hCeY, pt(hColors[2])),
    ds(hNiX, hNiY, pt(hColors[1])),
    ds(hNiCeX, hNiCeY, pt(hColors[0])),
  ]);
  const sf = `11px ${SERIF}`;
  const ly = [394, 409.3, 422.3, 436.7, 450];
  const items: any[] = [
    { k: "t", x: 326.7, y: 406.7, s: "128 mV dec⁻¹", f: sf, c: "#1aa39a", a: "center", r: -12 },
    { k: "t", x: 330, y: 485, s: "42 mV dec⁻¹", f: sf, c: "#111", a: "center", r: -6 },
    { k: "t", x: 436.7, y: 462.7, s: "58 mV dec⁻¹", f: sf, c: "#ff5c5c", a: "center", r: -9 },
    { k: "t", x: 361, y: 519, s: "243 mV dec⁻¹", f: sf, c: "#f2aa78", a: "center", r: -25 },
    { k: "t", x: 431.7, y: 518.3, s: "212 mV dec⁻¹", f: sf, c: "#2adf55", a: "center", r: -23 },
  ];
  hLegend.forEach((s, i) => {
    items.push({ k: "m", x: 365.7, y: ly[i], rad: 2, fc: hLegendColors[i] });
    items.push({ k: "t", x: 376.7, y: ly[i], s, f: `9.5px ${SERIF}`, c: "#111" });
  });
  const tf = { family: SERIF, size: 10, weight: "bold" };
  return {
    type: "line", data: { datasets },
    options: base(gH,
      xAxis(gH, { min: -0.044, max: 0.5, ticks: [0, 0.1, 0.2, 0.3, 0.4, 0.5], fmt: f1, tickFont: tf, tickCY: 545, title: "log | j (mA cm⁻²) |", titleFont: { family: SERIF, size: 12, weight: "bold" }, titleCY: 564 }),
      yAxis(gH, { min: -0.0255, max: 0.2262, ticks: [0, 0.05, 0.1, 0.15, 0.2], fmt: f2, tickFont: tf, tickRX: 285, title: "η (V vs. RHE)", titleFont: { family: SERIF, size: 13, weight: "bold" }, titleCX: 255 })),
    plugins: [framePlugin({ color: "#555", tick: 2.5 }), annoPlugin(items, gH.c[0], gH.c[1])],
  };
}

// ---------------- Panel i ----------------
const gI: G = { c: [476, 372, 233, 201], p: [523, 392, 702, 537] };
function cfgI() {
  const datasets = ordered([
    ds(iNiT, iNiV, { borderColor: "#ffa0bb", borderWidth: 1, pointRadius: 2.1, pointBorderColor: "#ff6f9a", pointBackgroundColor: "rgba(255,255,255,0.3)", pointBorderWidth: 0.9 }),
    ds(iMnT, iMnV, { borderColor: "#ecec3c", borderWidth: 4.5 }),
    ds(iMnT, iMnV, { borderColor: "#2bd12b", borderWidth: 1, pointRadius: 2.1, pointBorderColor: "#22c32e", pointBackgroundColor: "rgba(255,255,255,0.3)", pointBorderWidth: 0.9 }),
  ]);
  const tf = { family: SERIF, size: 9.5 };
  const items = [
    { k: "t", x: 525, y: 451.7, s: "MnO₂", f: `9.5px ${SERIF}`, c: "#22c32e" },
    { k: "t", x: 525, y: 495, s: "NiCe/MnO₂", f: `9.5px ${SERIF}`, c: "#ff6f9a" },
    { k: "t", x: 545, y: 520.7, s: "Constant current density=10 mA cm⁻²", f: `8.5px ${SERIF}`, c: "#2a2a66" },
  ];
  return {
    type: "line", data: { datasets },
    options: base(gI,
      xAxis(gI, { min: 0, max: 70, ticks: [0, 10, 20, 30, 40, 50, 60, 70], fmt: f0, tickFont: tf, tickCY: 545, title: "Time (h)", titleFont: { family: SERIF, size: 12, weight: "bold" }, titleCY: 561.7 }),
      yAxis(gI, { min: 1, max: 2, ticks: [1.0, 1.2, 1.4, 1.6, 1.8, 2.0], fmt: f1, tickFont: tf, tickRX: 520, title: "Potential (V vs. RHE)", titleFont: { family: SERIF, size: 12, weight: "bold" }, titleCX: 501.7 })),
    plugins: [framePlugin({ color: "#666", tick: 2.5 }), annoPlugin(items, gI.c[0], gI.c[1])],
  };
}

// ---------------- layout ----------------
const PANELS = [
  { rect: gA.c, make: cfgA },
  { rect: gAIn.c, make: cfgAInset },
  { rect: gB.c, make: cfgB },
  { rect: gC.c, make: cfgC },
  { rect: gD.c, make: cfgD },
  { rect: gE.c, make: cfgE },
  { rect: gF.c, make: cfgF },
  { rect: gGc, make: cfgG },
  { rect: gH.c, make: cfgH },
  { rect: gI.c, make: cfgI },
];

const LETTERS = [
  { t: "a", x: 5, y: 0 }, { t: "b", x: 246.7, y: -1.7 }, { t: "c", x: 481.7, y: -0.7 },
  { t: "d", x: 3.3, y: 183.3 }, { t: "e", x: 238.3, y: 182.3 }, { t: "f", x: 479.3, y: 183.3 },
  { t: "g", x: 13.3, y: 378.3 }, { t: "h", x: 245, y: 380 }, { t: "i", x: 483.3, y: 378.3 },
];

function ChartBox({ rect, make }: { rect: number[]; make: () => any }) {
  const ref = useRef<HTMLCanvasElement | null>(null);
  useEffect(() => {
    if (!ref.current) return;
    const ch = new Chart(ref.current, make());
    return () => ch.destroy();
  }, []);
  return (
    <canvas ref={ref} width={rect[2]} height={rect[3]}
      style={{ position: "absolute", left: rect[0], top: rect[1], width: rect[2], height: rect[3] }} />
  );
}

export default function App() {
  return (
    <div style={{ position: "absolute", left: 0, top: 0, width: 709, height: 573, background: "#fff", overflow: "hidden" }}>
      {PANELS.map((p, i) => <ChartBox key={i} rect={p.rect} make={p.make} />)}
      {LETTERS.map((l) => (
        <div key={l.t} style={{ position: "absolute", left: l.x, top: l.y, font: `20px ${SERIF}`, lineHeight: "20px", color: "#111" }}>{l.t}</div>
      ))}
    </div>
  );
}
